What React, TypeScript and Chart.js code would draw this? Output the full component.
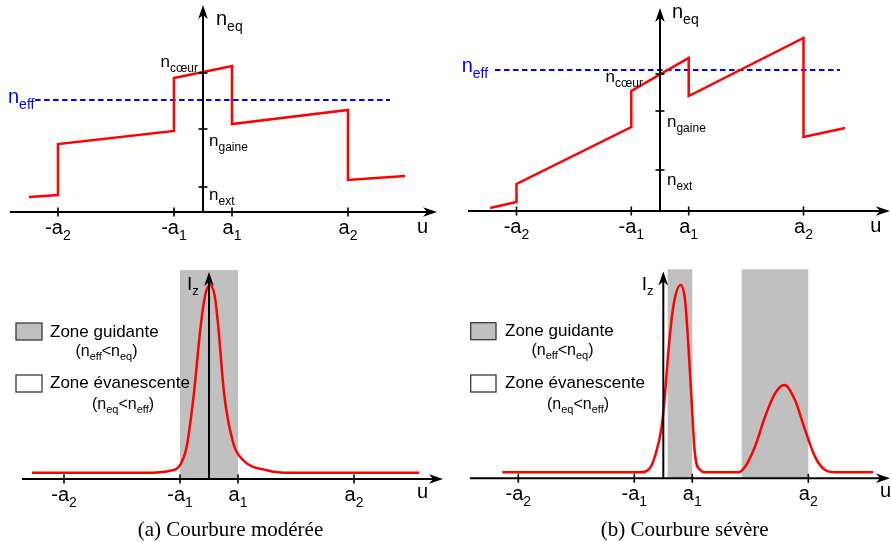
import React, { useEffect, useRef } from "react";
import { Chart, registerables } from "chart.js";
Chart.register(...registerables);

const SANS = '"Liberation Sans", Arial, Helvetica, sans-serif';
const SERIF = '"Liberation Serif", "Times New Roman", serif';
const RED = "#ff0000";
const BLUE = "#0000ff";
const GRAY = "#c0c0c0";

// ---------- data ----------
const xTickValues = [-5, -1, 1, 5];
const xTickLabels = ["-a_{2}", "-a_{1}", "a_{1}", "a_{2}"];
const yTickLabels = ["n_{cœur}", "n_{gaine}", "n_{ext}"];

// (a) top : index profile, moderate bending
const profileA_u = [-6, -5, -5, -1, -1, 1, 1, 5, 5, 6.97];
const profileA_n = [1.5, 1.7, 6.8, 8.1, 13.4, 14.6, 8.8, 10.2, 3.2, 3.6];
const neffA = 11.2;
const neffA_span = [-5.79, 6.45];
const yTicksA = [13.9, 8.3, 2.5];

// (b) top : index profile, severe bending
const profileB_u = [-5.92, -5, -5, -1, -1, 1, 1, 5, 5, 6.45];
const profileB_n = [0.3, 0.9, 2.7, 8.4, 12.0, 15.3, 11.5, 17.3, 7.4, 8.3];
const neffB = 14.1;
const neffB_span = [-5.75, 6.27];
const yTicksB = [13.7, 10.0, 4.1];

// (a) bottom : intensity
const intensA_u = [-6.11, -2.2, -1.34, -1.0, -0.77, -0.52, -0.29, -0.14, 0.03, 0.2, 0.32, 0.52, 0.84, 1.18, 1.99, 2.8, 7.25];
const intensA_I = [0.033, 0.033, 0.044, 0.074, 0.172, 0.456, 0.811, 0.973, 1.033, 0.973, 0.811, 0.456, 0.189, 0.1, 0.047, 0.033, 0.033];
const bandsA = [[-1, 1]];

// (b) bottom : intensity
const intensB_u = [-5.55, -0.8, -0.52, -0.29, -0.06, 0.06, 0.17, 0.34, 0.6, 0.75, 0.86, 0.98, 1.09, 1.27, 1.44, 2.59, 2.82, 3.16, 3.51, 3.85, 4.17, 4.54, 4.89, 5.23, 5.58, 5.92, 7.24];
const intensB_I = [0.032, 0.032, 0.044, 0.116, 0.272, 0.452, 0.667, 0.912, 1.032, 0.952, 0.722, 0.402, 0.132, 0.044, 0.032, 0.032, 0.062, 0.169, 0.329, 0.452, 0.498, 0.418, 0.258, 0.116, 0.044, 0.032, 0.032];
const bandsB = [[0.15, 1.0], [2.7, 5.0]];

const legendTexts = ["Zone guidante", "(n_{eff}<n_{eq})", "Zone évanescente", "(n_{eq}<n_{eff})"];
const captions = ["(a) Courbure modérée", "(b) Courbure sévère"];

// ---------- helpers ----------
const zip = (xs: number[], ys: number[]) => xs.map((x, i) => ({ x, y: ys[i] }));

type Seg = { t: string; sub: boolean };
function parse(s: string): Seg[] {
  const out: Seg[] = [];
  const re = /_\{([^}]*)\}/g;
  let last = 0;
  let m: RegExpExecArray | null;
  while ((m = re.exec(s))) {
    if (m.index > last) out.push({ t: s.slice(last, m.index), sub: false });
    out.push({ t: m[1], sub: true });
    last = m.index + m[0].length;
  }
  if (last < s.length) out.push({ t: s.slice(last), sub: false });
  return out;
}

function drawRich(ctx: CanvasRenderingContext2D, s: string, x: number, y: number, size: number, align = "left", color = "#000", family = SANS) {
  const segs = parse(s);
  const subSize = Math.round(size * 0.7);
  let w = 0;
  const widths = segs.map((g) => {
    ctx.font = `${g.sub ? subSize : size}px ${family}`;
    const ww = ctx.measureText(g.t).width;
    w += ww;
    return ww;
  });
  let cx = align === "center" ? x - w / 2 : align === "right" ? x - w : x;
  ctx.fillStyle = color;
  ctx.textAlign = "left";
  ctx.textBaseline = "alphabetic";
  segs.forEach((g, i) => {
    ctx.font = `${g.sub ? subSize : size}px ${family}`;
    ctx.fillText(g.t, cx, g.sub ? y + size * 0.28 : y);
    cx += widths[i];
  });
}

function arrowH(ctx: CanvasRenderingContext2D, x0: number, x1: number, y: number) {
  ctx.beginPath();
  ctx.moveTo(x0, y);
  ctx.lineTo(x1 - 8, y);
  ctx.stroke();
  ctx.beginPath();
  ctx.moveTo(x1, y);
  ctx.lineTo(x1 - 14, y - 4.8);
  ctx.lineTo(x1 - 10, y);
  ctx.lineTo(x1 - 14, y + 4.8);
  ctx.closePath();
  ctx.fill();
}
function arrowV(ctx: CanvasRenderingContext2D, x: number, y0: number, y1: number) {
  ctx.beginPath();
  ctx.moveTo(x, y0);
  ctx.lineTo(x, y1 + 8);
  ctx.stroke();
  ctx.beginPath();
  ctx.moveTo(x, y1);
  ctx.lineTo(x - 4.8, y1 + 14);
  ctx.lineTo(x, y1 + 10);
  ctx.lineTo(x + 4.8, y1 + 14);
  ctx.closePath();
  ctx.fill();
}

type YTick = { v: number; label: string; dx: number; dy: number; align: string };
type PanelCfg = {
  left: number; top: number; w: number; h: number;
  xMin: number; xMax: number; yMin: number; yMax: number;
  datasets: any[];
  axis: { xFrom: number; xTo: number; yTo: number };
  uLabel: { dx: number; dy: number };
  yLabel: { text: string; dx: number; y: number | null; dyFromTip?: number; size: number };
  yTicks?: YTick[];
  neff?: { v: number; x: number; dy: number };
  bands?: number[][];
  bandTop?: number;
  legend?: {
    boxX: number; boxW: number; box1Y: number; box2Y: number; boxH: number;
    textX: number; t1Y: number; p1X: number; p1Y: number; t2Y: number; p2X: number; p2Y: number;
  };
  caption?: { text: string; x: number; y: number };
};

function decor(cfg: PanelCfg) {
  return {
    id: "decor",
    beforeDatasetsDraw(chart: any) {
      const { ctx, scales } = chart;
      const x = scales.x, y = scales.y;
      ctx.save();
      (cfg.bands || []).forEach(([a, b]) => {
        const x0 = x.getPixelForValue(a), x1 = x.getPixelForValue(b);
        const y0 = y.getPixelForValue(cfg.bandTop), y1 = y.getPixelForValue(0);
        ctx.fillStyle = GRAY;
        ctx.fillRect(x0, y0, x1 - x0, y1 - y0);
      });
      ctx.restore();
    },
    afterDatasetsDraw(chart: any) {
      const { ctx, scales } = chart;
      const x = scales.x, y = scales.y;
      const ax = x.getPixelForValue(0);
      const ay = y.getPixelForValue(0);
      ctx.save();
      ctx.strokeStyle = "#000";
      ctx.fillStyle = "#000";
      ctx.lineWidth = 2;
      ctx.lineCap = "butt";
      // axes
      arrowH(ctx, x.getPixelForValue(cfg.axis.xFrom), x.getPixelForValue(cfg.axis.xTo), ay);
      const tipY = y.getPixelForValue(cfg.axis.yTo);
      arrowV(ctx, ax, ay, tipY);
      // x ticks
      ctx.lineWidth = 1.6;
      xTickValues.forEach((v, i) => {
        const px = x.getPixelForValue(v);
        ctx.beginPath();
        ctx.moveTo(px, ay - 4.5);
        ctx.lineTo(px, ay + 4.5);
        ctx.stroke();
        drawRich(ctx, xTickLabels[i], px, ay + 22, 20, "center");
      });
      // y ticks
      (cfg.yTicks || []).forEach((t) => {
        const py = y.getPixelForValue(t.v);
        ctx.strokeStyle = "#000";
        ctx.lineWidth = 1.6;
        ctx.beginPath();
        ctx.moveTo(ax - 4.5, py);
        ctx.lineTo(ax + 4.5, py);
        ctx.stroke();
        drawRich(ctx, t.label, ax + t.dx, py + t.dy, 17, t.align);
      });
      // axis labels
      drawRich(ctx, "u", x.getPixelForValue(cfg.axis.xTo) + cfg.uLabel.dx, ay + cfg.uLabel.dy, 20, "center");
      const yl = cfg.yLabel;
      drawRich(ctx, yl.text, ax + yl.dx, yl.y != null ? yl.y : tipY + (yl.dyFromTip || 0), yl.size, "left");
      // neff label
      if (cfg.neff) {
        drawRich(ctx, "n_{eff}", cfg.neff.x, y.getPixelForValue(cfg.neff.v) + cfg.neff.dy, 20, "left", BLUE);
      }
      // legend
      if (cfg.legend) {
        const L = cfg.legend;
        ctx.lineWidth = 1.3;
        ctx.strokeStyle = "#3a3a3a";
        ctx.fillStyle = GRAY;
        ctx.fillRect(L.boxX, L.box1Y, L.boxW, L.boxH);
        ctx.strokeRect(L.boxX, L.box1Y, L.boxW, L.boxH);
        ctx.fillStyle = "#fff";
        ctx.fillRect(L.boxX, L.box2Y, L.boxW, L.boxH);
        ctx.strokeRect(L.boxX, L.box2Y, L.boxW, L.boxH);
        drawRich(ctx, legendTexts[0], L.textX, L.t1Y, 17, "left");
        drawRich(ctx, legendTexts[1], L.p1X, L.p1Y, 16, "center");
        drawRich(ctx, legendTexts[2], L.textX, L.t2Y, 17, "left");
        drawRich(ctx, legendTexts[3], L.p2X, L.p2Y, 16, "center");
      }
      if (cfg.caption) {
        ctx.fillStyle = "#000";
        ctx.font = `21px ${SERIF}`;
        ctx.textAlign = "center";
        ctx.textBaseline = "alphabetic";
        ctx.fillText(cfg.caption.text, cfg.caption.x, cfg.caption.y);
      }
      ctx.restore();
    },
  };
}

function Panel({ cfg }: { cfg: PanelCfg }) {
  const ref = useRef<HTMLCanvasElement>(null);
  useEffect(() => {
    const chart = new Chart(ref.current as HTMLCanvasElement, {
      type: "line",
      data: { datasets: cfg.datasets },
      options: {
        animation: false,
        responsive: false,
        events: [],
        layout: { padding: 0 },
        plugins: { legend: { display: false }, tooltip: { enabled: false } },
        scales: {
          x: { type: "linear", display: false, min: cfg.xMin, max: cfg.xMax },
          y: { type: "linear", display: false, min: cfg.yMin, max: cfg.yMax },
        },
      },
      plugins: [decor(cfg)],
    } as any);
    return () => chart.destroy();
  }, []);
  return (
    <canvas
      ref={ref}
      width={cfg.w}
      height={cfg.h}
      style={{ position: "absolute", left: cfg.left, top: cfg.top, width: cfg.w, height: cfg.h }}
    />
  );
}

const redLine = (data: any[], smooth: boolean) => ({
  data,
  borderColor: RED,
  borderWidth: 2.5,
  pointRadius: 0,
  tension: 0,
  cubicInterpolationMode: smooth ? "monotone" : "default",
  fill: false,
  clip: false,
  order: 1,
});
const neffLine = (v: number, span: number[]) => ({
  data: [{ x: span[0], y: v }, { x: span[1], y: v }],
  borderColor: BLUE,
  borderWidth: 2,
  borderDash: [5.5, 3.5],
  pointRadius: 0,
  fill: false,
  clip: false,
  order: 2,
});

const panelTopA: PanelCfg = {
  left: 0, top: 0, w: 445, h: 250,
  xMin: -7.0, xMax: 8.345, yMin: -3.8, yMax: 21.2,
  datasets: [neffLine(neffA, neffA_span), redLine(zip(profileA_u, profileA_n), false)],
  axis: { xFrom: -6.66, xTo: 8.07, yTo: 20.7 },
  uLabel: { dx: -14.5, dy: 21 },
  yLabel: { text: "n_{eq}", dx: 13, y: 25, size: 20 },
  yTicks: [
    { v: yTicksA[0], label: yTickLabels[0], dx: -5, dy: -6, align: "right" },
    { v: yTicksA[1], label: yTickLabels[1], dx: 6, dy: 17, align: "left" },
    { v: yTicksA[2], label: yTickLabels[2], dx: 6, dy: 13, align: "left" },
  ],
  neff: { v: neffA, x: 8, dy: 3 },
};

const panelTopB: PanelCfg = {
  left: 445, top: 0, w: 446, h: 250,
  xMin: -7.491, xMax: 8.049, yMin: -3.9, yMax: 21.1,
  datasets: [neffLine(neffB, neffB_span), redLine(zip(profileB_u, profileB_n), false)],
  axis: { xFrom: -6.69, xTo: 8.01, yTo: 20.3 },
  uLabel: { dx: -14, dy: 21 },
  yLabel: { text: "n_{eq}", dx: 12, y: 18, size: 20 },
  yTicks: [
    { v: yTicksB[0], label: yTickLabels[0], dx: -17, dy: 8, align: "right" },
    { v: yTicksB[1], label: yTickLabels[1], dx: 7, dy: 16, align: "left" },
    { v: yTicksB[2], label: yTickLabels[2], dx: 7, dy: 15, align: "left" },
  ],
  neff: { v: neffB, x: 16.7, dy: 2 },
};

const panelBotA: PanelCfg = {
  left: 0, top: 250, w: 445, h: 292,
  xMin: -7.207, xMax: 8.138, yMin: -0.3356, yMax: 1.22,
  datasets: [redLine(zip(intensA_u, intensA_I), true)],
  axis: { xFrom: -6.45, xTo: 8.07, yTo: 1.103 },
  uLabel: { dx: -20.5, dy: 19 },
  yLabel: { text: "I_{z}", dx: -22, y: null, dyFromTip: 18, size: 19 },
  bands: bandsA,
  bandTop: 1.113,
  legend: {
    boxX: 16, boxW: 26, box1Y: 73, box2Y: 125, boxH: 17,
    textX: 50, t1Y: 87, p1X: 106.5, p1Y: 106, t2Y: 138, p2X: 123, p2Y: 159,
  },
  caption: { text: captions[0], x: 230.5, y: 286 },
};

const panelBotB: PanelCfg = {
  left: 445, top: 250, w: 446, h: 292,
  xMin: -7.528, xMax: 7.852, yMin: -0.34, yMax: 1.219,
  datasets: [redLine(zip(intensB_u, intensB_I), true)],
  axis: { xFrom: -6.67, xTo: 7.82, yTo: 1.104 },
  uLabel: { dx: -4.5, dy: 19 },
  yLabel: { text: "I_{z}", dx: -21.6, y: null, dyFromTip: 18, size: 19 },
  bands: bandsB,
  bandTop: 1.116,
  legend: {
    boxX: 25.7, boxW: 25.3, box1Y: 72.7, box2Y: 125, boxH: 17,
    textX: 60, t1Y: 86, p1X: 117.5, p1Y: 105, t2Y: 138, p2X: 133, p2Y: 159,
  },
  caption: { text: captions[1], x: 239.7, y: 286 },
};

export default function App() {
  return (
    <div style={{ position: "absolute", left: 0, top: 0, width: 891, height: 542, background: "#fff", overflow: "hidden" }}>
      <Panel cfg={panelTopA} />
      <Panel cfg={panelTopB} />
      <Panel cfg={panelBotA} />
      <Panel cfg={panelBotB} />
    </div>
  );
}
